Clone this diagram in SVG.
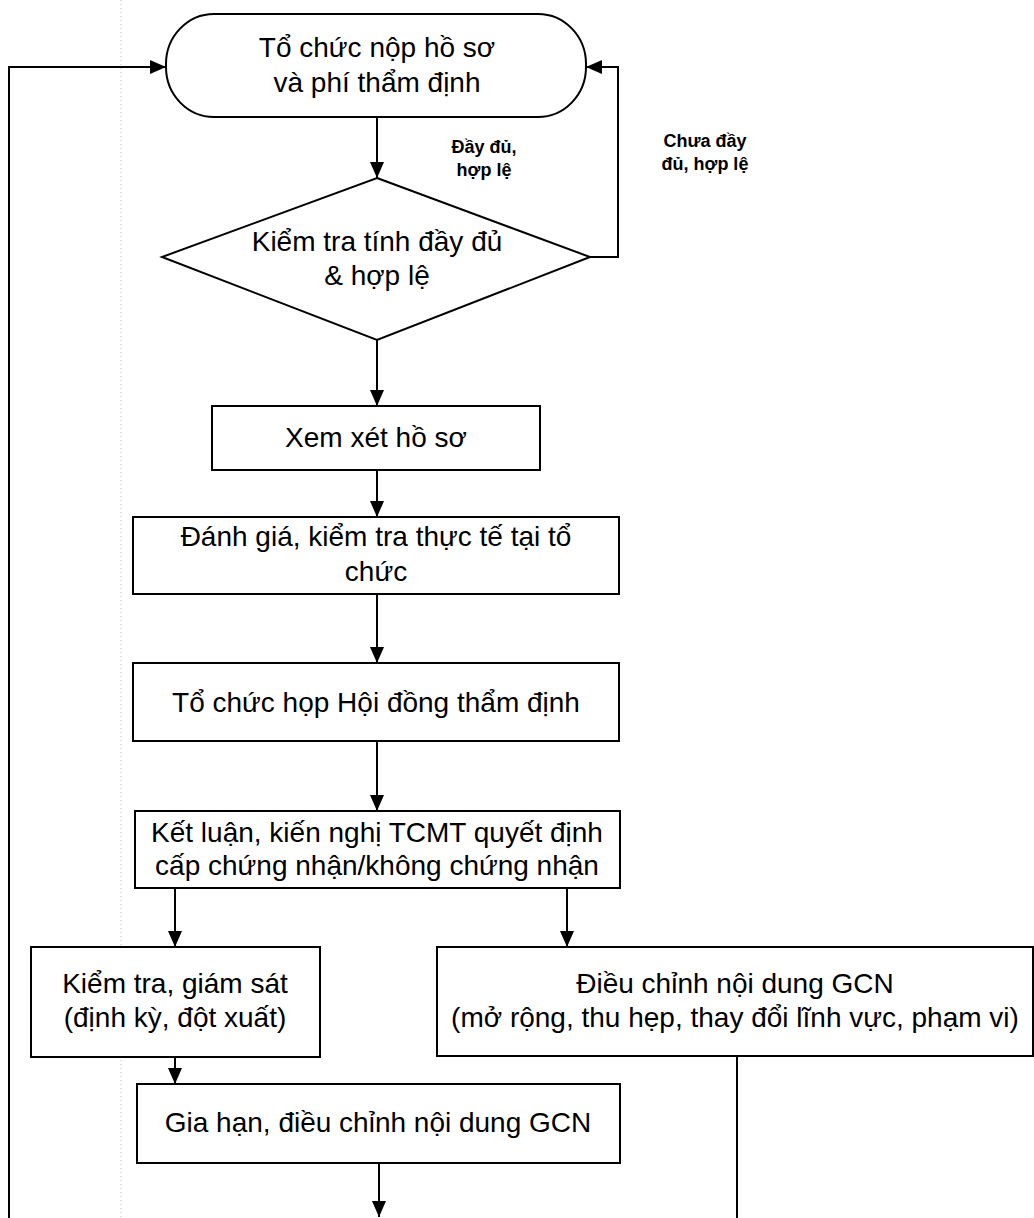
<svg xmlns="http://www.w3.org/2000/svg" width="1034" height="1218" viewBox="0 0 1034 1218">
<defs>
<style>
.n{fill:#fff;stroke:#000;stroke-width:2}
.t{font-family:"Liberation Sans",Arial,sans-serif;font-size:28px;fill:#000;text-anchor:middle}
.l{font-family:"Liberation Sans",Arial,sans-serif;font-size:18px;font-weight:bold;fill:#000;text-anchor:middle}
.c{fill:none;stroke:#000;stroke-width:2}
</style>
<marker id="ah" viewBox="0 0 16 14" refX="16" refY="7" markerWidth="16" markerHeight="14" orient="auto" markerUnits="userSpaceOnUse"><path d="M0,0 L16,7 L0,14 z" fill="#000"/></marker>
</defs>
<rect width="1034" height="1218" fill="#fff"/>
<line x1="121" y1="0" x2="121" y2="1218" stroke="#bbb" stroke-width="1" stroke-dasharray="1 3"/>
<g id="connectors">
<path class="c" d="M377,117 V178" marker-end="url(#ah)"/>
<path class="c" d="M377,340 V406" marker-end="url(#ah)"/>
<path class="c" d="M377,470 V517" marker-end="url(#ah)"/>
<path class="c" d="M377,594 V663" marker-end="url(#ah)"/>
<path class="c" d="M377,741 V811" marker-end="url(#ah)"/>
<path class="c" d="M175,888 V947" marker-end="url(#ah)"/>
<path class="c" d="M567,888 V947" marker-end="url(#ah)"/>
<path class="c" d="M175,1057 V1084" marker-end="url(#ah)"/>
<path class="c" d="M379,1163 V1217" marker-end="url(#ah)"/>
<path class="c" d="M737,1057 V1218"/>
<path class="c" d="M590,257 H618 V67 H586" marker-end="url(#ah)"/>
<path class="c" d="M9,1218 V67 H166" marker-end="url(#ah)"/>
<text class="l" x="484" y="153">Đầy đủ,</text>
<text class="l" x="484" y="176">hợp lệ</text>
<text class="l" x="705" y="147">Chưa đầy</text>
<text class="l" x="705" y="170">đủ, hợp lệ</text>
</g>
<g id="start">
<rect class="n" x="166" y="14" width="420" height="103" rx="48" ry="50"/>
<text class="t" x="377" y="57">Tổ chức nộp hồ sơ</text>
<text class="t" x="377" y="92">và phí thẩm định</text>
</g>
<g id="check">
<polygon class="n" points="377,178 590,257 377,340 162,257"/>
<text class="t" x="377" y="251">Kiểm tra tính đầy đủ</text>
<text class="t" x="377" y="285">&amp; hợp lệ</text>
</g>
<g id="review">
<rect class="n" x="212" y="406" width="328" height="64"/>
<text class="t" x="376" y="447">Xem xét hồ sơ</text>
</g>
<g id="assess">
<rect class="n" x="133" y="517" width="486" height="77"/>
<text class="t" x="376" y="546">Đánh giá, kiểm tra thực tế tại tổ</text>
<text class="t" x="376" y="581">chức</text>
</g>
<g id="council">
<rect class="n" x="133" y="663" width="486" height="78"/>
<text class="t" x="376" y="712">Tổ chức họp Hội đồng thẩm định</text>
</g>
<g id="conclude">
<rect class="n" x="135" y="811" width="485" height="77"/>
<text class="t" x="377" y="842">Kết luận, kiến nghị TCMT quyết định</text>
<text class="t" x="377" y="875">cấp chứng nhận/không chứng nhận</text>
</g>
<g id="monitor">
<rect class="n" x="31" y="947" width="289" height="110"/>
<text class="t" x="175" y="993">Kiểm tra, giám sát</text>
<text class="t" x="175" y="1027">(định kỳ, đột xuất)</text>
</g>
<g id="adjust">
<rect class="n" x="437" y="947" width="596" height="109"/>
<text class="t" x="735" y="993">Điều chỉnh nội dung GCN</text>
<text class="t" x="735" y="1027">(mở rộng, thu hẹp, thay đổi lĩnh vực, phạm vi)</text>
</g>
<g id="extend">
<rect class="n" x="137" y="1084" width="483" height="79"/>
<text class="t" x="378" y="1132">Gia hạn, điều chỉnh nội dung GCN</text>
</g>
</svg>
